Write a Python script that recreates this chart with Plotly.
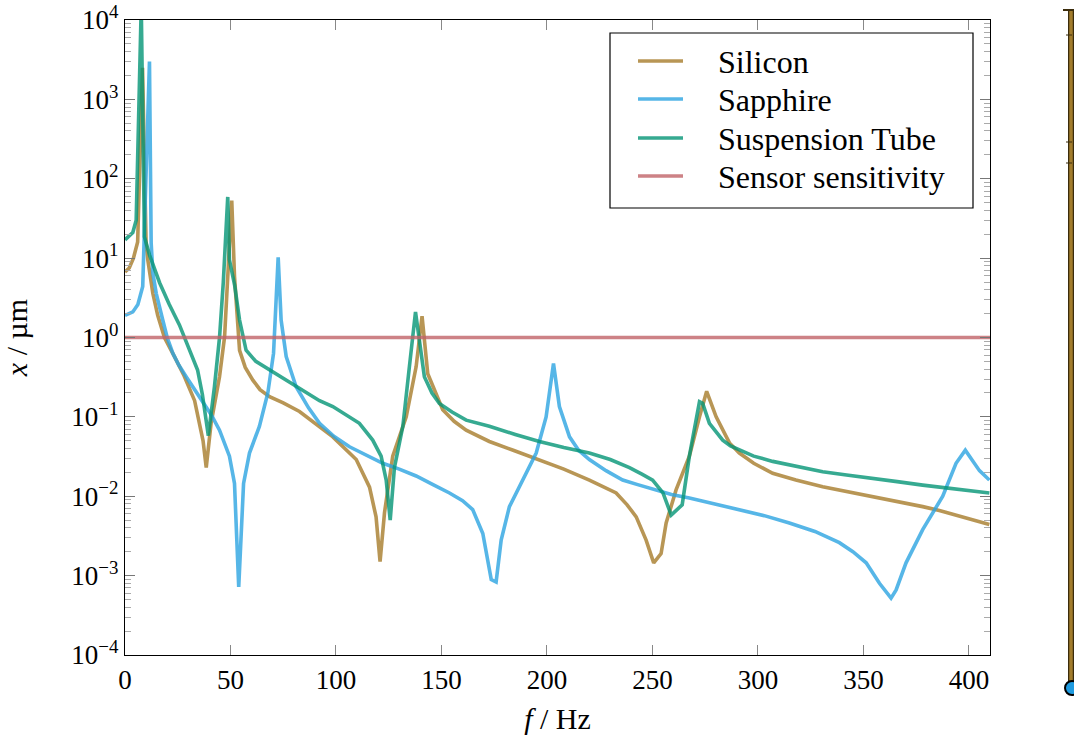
import plotly.graph_objects as go

# Frequency response of the three suspension materials (displacement in µm)
silicon_f = [0, 2, 4, 6, 8.3, 10, 10.8, 13.2, 15.5, 18.7, 23.5, 28, 33, 35, 37, 38.5, 40.8,
             44.8, 47.2, 50.6, 51.9, 54.3, 57, 60.6, 64, 68.5, 75, 82.7, 92.2, 98.5, 109.6,
             115.9, 119, 120.9, 123, 126.9, 133.3, 138, 140.8, 143.5, 150.6, 156, 161.7, 172.7,
             184, 196.4, 208, 220.1, 226, 232.8, 238, 242.3, 247, 250.6, 254.1, 256.5, 261.2,
             267.5, 272.3, 275.7, 280.2, 286.5, 291.2, 298, 307, 318, 330.7, 342, 354.4, 366,
             378.1, 386, 393.9, 402, 409.7]
silicon_x = [6.7, 7.5, 10, 16, 2500, 15.5, 9.5, 3.6, 1.9, 1.0, 0.57, 0.33, 0.16, 0.09, 0.05,
             0.023, 0.083, 0.32, 1.02, 53, 5.9, 0.69, 0.42, 0.29, 0.22, 0.18, 0.15, 0.117,
             0.076, 0.056, 0.029, 0.013, 0.0055, 0.0015, 0.0062, 0.032, 0.1, 0.43, 1.86, 0.35,
             0.123, 0.088, 0.068, 0.049, 0.038, 0.029, 0.022, 0.016, 0.0135, 0.011, 0.0078,
             0.0055, 0.0028, 0.00145, 0.0019, 0.0046, 0.012, 0.032, 0.1, 0.21, 0.1, 0.047,
             0.035, 0.026, 0.0195, 0.016, 0.0132, 0.0115, 0.01, 0.0086, 0.0074, 0.0066, 0.0058,
             0.005, 0.0044]

sapphire_f = [0, 3.7, 6.1, 8.4, 11.6, 12.4, 13.2, 14.8, 17.9, 20, 22.7, 25.5, 29, 33, 36.9, 41,
              44.8, 49.5, 51.9, 53.9, 56.2, 59, 63.7, 67.7, 70.4, 72.6, 74, 76.4, 81.1, 87,
              92.2, 99, 106.4, 114, 122.2, 130, 138, 146, 153.8, 160, 164.8, 169.6, 173.6,
              175.9, 178.3, 182.2, 188.5, 194.9, 199.6, 203.1, 205.9, 210.7, 215, 220.1, 228,
              235.9, 243, 251.7, 259, 267.5, 279, 291.2, 303, 314.9, 327, 338.6, 345, 351.3,
              357.6, 363.1, 365.5, 370.2, 378.1, 387.6, 393.9, 398.3, 405, 409.7]
sapphire_x = [1.9, 2.1, 2.6, 4.4, 3000, 15.5, 6.5, 3.6, 1.66, 1.0, 0.63, 0.45, 0.32, 0.22, 0.16,
              0.105, 0.068, 0.032, 0.0145, 0.00072, 0.0145, 0.035, 0.076, 0.2, 0.63, 10.2,
              1.66, 0.575, 0.24, 0.13, 0.083, 0.057, 0.042, 0.033, 0.026, 0.022, 0.018, 0.014,
              0.011, 0.0088, 0.0068, 0.0034, 0.00089, 0.00083, 0.0028, 0.0074, 0.016, 0.035,
              0.1, 0.47, 0.135, 0.056, 0.038, 0.029, 0.021, 0.016, 0.014, 0.012, 0.0105, 0.0095,
              0.008, 0.0068, 0.0057, 0.0046, 0.0036, 0.0026, 0.002, 0.00145, 0.0008, 0.00052,
              0.00066, 0.00145, 0.0038, 0.01, 0.026, 0.038, 0.021, 0.016]

tube_f = [0, 3.7, 5.3, 7.7, 9.2, 11.6, 16.4, 21, 25.8, 30.6, 34.4, 36.7, 39.5, 42.4, 44.8, 46.6,
          48.7, 49.5, 52, 54.3, 55.5, 57.4, 62, 68.5, 75, 82.7, 92.2, 98.5, 111.1, 117.4,
          121.4, 123.8, 125.7, 127.7, 131.7, 134.8, 137.7, 141.9, 145.5, 149, 155, 161.7,
          172.7, 185, 196.4, 208, 220.1, 230, 239.1, 245, 250.1, 255, 258.9, 264.1, 267.5,
          272.3, 273.8, 277, 283.3, 287, 291.2, 298, 307, 318, 330.7, 342, 354.4, 366, 378.1,
          386, 393.9, 402, 409.7]
tube_x = [17, 21, 30, 15000, 18.6, 11, 4.9, 2.6, 1.44, 0.7, 0.39, 0.19, 0.058, 0.24, 1.0, 5,
          59, 9.5, 4.5, 1.66, 1.15, 0.69, 0.5, 0.39, 0.3, 0.23, 0.16, 0.135, 0.083, 0.051,
          0.032, 0.016, 0.005, 0.023, 0.076, 0.43, 2.1, 0.32, 0.2, 0.148, 0.115, 0.091, 0.076,
          0.06, 0.049, 0.041, 0.035, 0.029, 0.023, 0.019, 0.016, 0.011, 0.0058, 0.0078, 0.032,
          0.155, 0.148, 0.083, 0.051, 0.043, 0.038, 0.032, 0.0275, 0.024, 0.0204, 0.0185,
          0.017, 0.0153, 0.0138, 0.013, 0.0123, 0.0115, 0.011]

sensor_f = [0, 410]
sensor_x = [1.0, 1.0]

y_exponents = [-4, -3, -2, -1, 0, 1, 2, 3, 4]
x_ticks = [0, 50, 100, 150, 200, 250, 300, 350, 400]

FONT = "Liberation Serif"
OPACITY = 0.8

series = [
    ("Silicon", silicon_f, silicon_x, "rgb(167,124,43)"),
    ("Sapphire", sapphire_f, sapphire_x, "rgb(44,164,226)"),
    ("Suspension Tube", tube_f, tube_x, "rgb(5,149,118)"),
    ("Sensor sensitivity", sensor_f, sensor_x, "rgb(193,99,105)"),
]

fig = go.Figure()
for name, fx, vx, col in series:
    fig.add_trace(go.Scatter(
        x=fx, y=vx, name=name, mode="lines",
        line=dict(color=col, width=3.6),
        opacity=OPACITY, showlegend=False,
    ))

# Plot area in pixels: left 125, right 990, top 20, bottom 655
L, R, T, B = 125, 84, 20, 87
W, H = 1074 - L - R, 742 - T - B


def px_x(p):
    return (p - L) / W


def px_y(p):
    return (742 - B - p) / H


fig.update_layout(
    width=1074, height=742,
    margin=dict(l=L, r=R, t=T, b=B),
    paper_bgcolor="white", plot_bgcolor="white",
    font=dict(family=FONT, size=27, color="black"),
    showlegend=False,
    xaxis=dict(
        range=[0, 410], tickvals=x_ticks, automargin=False,
        ticks="inside", ticklen=10, tickcolor="#888", tickwidth=1,
        showline=True, linecolor="black", linewidth=1.3, mirror="ticks",
        showgrid=False, zeroline=False,
        tickfont=dict(size=27),
        title=dict(text="<i>f</i> / Hz", font=dict(size=30), standoff=14),
    ),
    yaxis=dict(
        type="log", range=[-4, 4], automargin=False,
        tickvals=[10.0 ** e for e in y_exponents],
        ticktext=["10<sup>%s</sup>" % (str(e).replace("-", "\u2212")) for e in y_exponents],
        ticks="inside", ticklen=10, tickcolor="#777", tickwidth=1,
        minor=dict(ticks="inside", ticklen=6, tickcolor="#aaa", dtick="D1", showgrid=False),
        showline=True, linecolor="black", linewidth=1.3, mirror="ticks",
        showgrid=False, zeroline=False,
        tickfont=dict(size=27),
        title=dict(text="<i>x</i> / µm", font=dict(size=30), standoff=35),
    ),
)

shapes = []
annotations = []

# Legend box with line samples and labels
shapes.append(dict(type="rect", xref="paper", yref="paper",
                   x0=px_x(610), x1=px_x(973), y0=px_y(208), y1=px_y(33),
                   line=dict(color="black", width=1.2), fillcolor="white", layer="above"))
row_y = [61, 99, 138, 176]
for (name, _, _, col), ry in zip(series, row_y):
    shapes.append(dict(type="line", xref="paper", yref="paper",
                       x0=px_x(638), x1=px_x(683), y0=px_y(ry), y1=px_y(ry),
                       line=dict(color=col, width=3.6), opacity=OPACITY, layer="above"))
    annotations.append(dict(text=name, xref="paper", yref="paper",
                            x=px_x(716), y=px_y(ry + 1), xanchor="left", yanchor="middle",
                            showarrow=False, font=dict(family=FONT, size=32, color="black")))

# Pendulum strip running down the right edge with its bob
strip_x = px_x(1071)
y_top = px_y(10)
y_bot = px_y(688)
shapes += [
    dict(type="line", xref="paper", yref="paper", x0=strip_x, x1=strip_x, y0=y_top, y1=y_bot,
         line=dict(color="#3b2c0c", width=6)),
    dict(type="line", xref="paper", yref="paper", x0=strip_x, x1=strip_x, y0=y_top, y1=y_bot,
         line=dict(color="#a27c2c", width=3.5)),
    dict(type="line", xref="paper", yref="paper", x0=px_x(1063), x1=px_x(1076),
         y0=y_top, y1=y_top, line=dict(color="#3b2c0c", width=2)),
]
for py in (35, 142, 163):
    shapes.append(dict(type="line", xref="paper", yref="paper",
                       x0=px_x(1066), x1=px_x(1072), y0=px_y(py), y1=px_y(py),
                       line=dict(color="#3b2c0c", width=1)))
shapes.append(dict(type="circle", xref="paper", yref="paper",
                   x0=px_x(1065), x1=px_x(1079), y0=px_y(695), y1=px_y(681),
                   fillcolor="#1f9be0", line=dict(color="black", width=2)))

fig.update_layout(shapes=shapes, annotations=annotations)

fig.write_html("out.html")
